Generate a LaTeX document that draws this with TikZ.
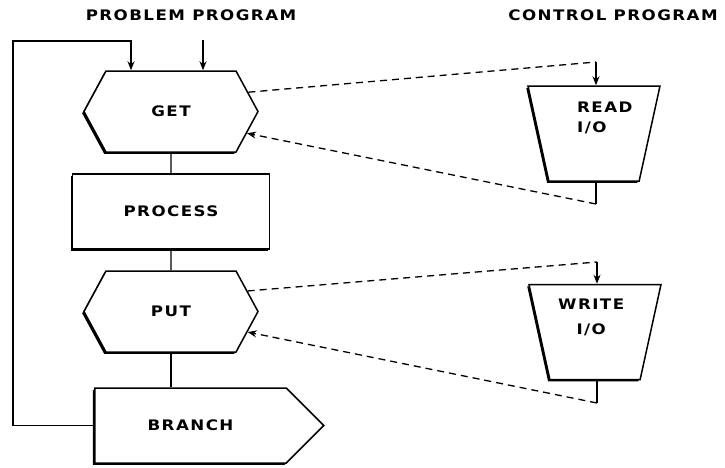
\documentclass[tikz,border=0pt]{standalone}
\usepackage{fontspec}
\usepackage{tikz}
\usetikzlibrary{shapes.geometric, shapes.symbols, arrows.meta, shadows, calc}
\newfontfamily\chartfont{DejaVu Sans Bold}[FakeStretch=1.15, LetterSpace=10]
\tikzstyle{shaded} = [drop shadow={shadow xshift=-1.8pt, shadow yshift=-1.8pt, fill=black, opacity=1}]
\tikzstyle{hexbox} = [signal, signal to=east and west, signal pointer angle=123, minimum width=174pt, minimum height=81pt, inner sep=0pt, draw=black, line width=1.5pt, fill=white, shaded]
\tikzstyle{process} = [rectangle, minimum width=197pt, minimum height=75pt, text centered, draw=black, line width=1.5pt, fill=white, shaded]
\tikzstyle{branchbox} = [signal, signal to=east, signal pointer angle=90, minimum width=229pt, minimum height=75pt, inner sep=0pt, draw=black, line width=1.5pt, fill=white, shaded]
\tikzstyle{iobox} = [trapezium, trapezium left angle=77, trapezium right angle=77, trapezium stretches=true, shape border rotate=180, minimum width=132pt, minimum height=95pt, draw=black, line width=1.5pt, fill=white, shaded]
\tikzstyle{iotext} = [inner sep=0pt, anchor=north west]
\tikzstyle{line} = [line width=1.3pt]
\tikzstyle{arrow} = [line width=1.3pt,->,>={Stealth[length=9pt,width=7pt,inset=3pt]}]
\tikzstyle{dasharrow} = [line width=1.3pt, dash pattern=on 7pt off 5pt,->,>={Stealth[length=9pt,width=7pt,inset=3pt]}]

\begin{document}
\begin{tikzpicture}[x=1pt, y=-1pt, node distance=100pt, every node/.style={font=\chartfont\fontsize{14.5}{17}\selectfont}]
        \useasboundingbox (0,0) rectangle (725,467);

        \node (probtitle) at (191,15) {PROBLEM PROGRAM};
        \node (ctrltitle) at (613,15) {CONTROL PROGRAM};

        \node (get) [hexbox] at (171,111.5) {GET};
        \node (proc) [process, below of=get] {PROCESS};
        \node (put) [hexbox, below of=proc] {PUT};
        \node (branch) [branchbox] at (190.5,425.5) {BRANCH};

        \node (read) [iobox] at (594,133.5) {};
        \node (readtext) [iotext, align=left] at (577,102) {READ\\[3pt]I/O};
        \node (write) [iobox] at (595,332) {};
        \node (writetext) [iotext, align=center] at (558,299) {WRITE\\[8pt]I/O};

        \coordinate (loopcorner) at (13,41);
        \coordinate (loopin) at ($(get.north)+(-40,0)$);
        \coordinate (getfeed) at (203,40);
        \coordinate (readin) at (596,62);
        \coordinate (readout) at (596,204);
        \coordinate (writein) at (597,262);
        \coordinate (writeout) at (597,403);

        \draw [line] (get) -- (proc);
        \draw [line] (proc) -- (put);
        \draw [line] (put.south) -- (put.south |- branch.north);
        \draw [arrow] (branch.west) -| (loopcorner) -| (loopin);
        \draw [arrow] (getfeed) -- (getfeed |- get.north);

        \draw [dasharrow, -] (get.14) -- (readin);
        \draw [arrow] (readin) -- (readin |- read.north);
        \draw [line] (readout |- read.south) -- (readout);
        \draw [dasharrow] (readout) -- (get.-16);

        \draw [dasharrow, -] (put.15) -- (writein);
        \draw [arrow] (writein) -- (writein |- write.north);
        \draw [line] (writeout |- write.south) -- (writeout);
        \draw [dasharrow] (writeout) -- (put.-15);
\end{tikzpicture}
\end{document}
